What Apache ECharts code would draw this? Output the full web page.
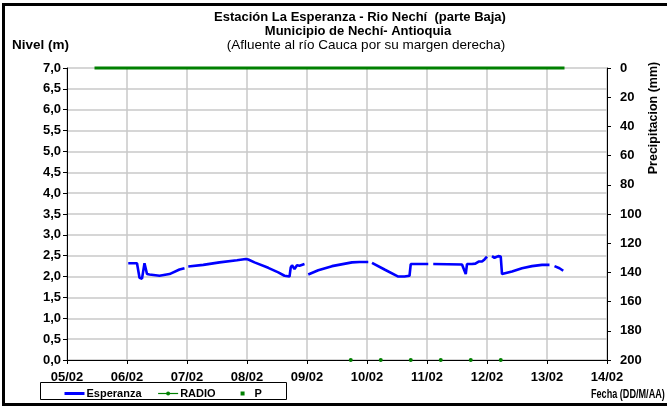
<!DOCTYPE html>
<html>
<head>
<meta charset="utf-8">
<script src="https://cdn.jsdelivr.net/npm/echarts@6/dist/echarts.min.js"></script>
<style>
html,body{margin:0;padding:0;background:#ffffff;}
#chart{width:667px;height:409px;}
</style>
</head>
<body>
<div id="chart"></div>
<script>
// ---- data ----
const xTickLabels = ['05/02','06/02','07/02','08/02','09/02','10/02','11/02','12/02','13/02','14/02'];

const esperanzaTimes = [
  '06/02 00:30','06/02 04:00','06/02 05:00','06/02 06:00','06/02 07:00','06/02 08:00','06/02 09:00',
  '06/02 13:00','06/02 17:00','06/02 21:00','06/02 23:00','06/02 23:30',
  '07/02 00:30','07/02 06:30','07/02 13:00','07/02 20:00','07/02 23:30',
  '08/02 00:30','08/02 03:00','08/02 08:30','08/02 12:30','08/02 15:00','08/02 17:00','08/02 17:30',
  '08/02 18:00','08/02 19:00','08/02 20:00','08/02 21:00','08/02 23:00','08/02 23:45',
  '09/02 00:30','09/02 04:30','09/02 10:00','09/02 18:00','09/02 21:00','10/02 00:30','10/02 01:15',
  '10/02 02:00','10/02 07:00','10/02 12:30','10/02 15:00','10/02 17:00','10/02 17:30','11/02 00:30','11/02 01:30',
  '11/02 02:30','11/02 14:00','11/02 15:30','11/02 16:00','11/02 18:00','11/02 19:20','11/02 20:40',
  '11/02 22:00','11/02 23:00','12/02 00:00','12/02 01:00',
  '12/02 02:00','12/02 03:00','12/02 04:30','12/02 05:30','12/02 06:00','12/02 10:00','12/02 14:00',
  '12/02 18:00','12/02 22:00','13/02 01:00','13/02 02:00',
  '13/02 03:00','13/02 05:00','13/02 06:30'
];
const esperanzaLevels = [
  2.32,2.32,1.97,1.95,2.32,2.06,2.05,
  2.02,2.06,2.17,2.20,null,
  2.24,2.28,2.34,2.39,2.42,
  2.41,2.34,2.21,2.10,2.02,2.00,2.22,
  2.27,2.18,2.27,2.26,2.30,null,
  2.05,2.15,2.25,2.34,2.35,2.35,null,
  2.33,2.17,2.00,2.00,2.02,2.30,2.30,null,
  2.30,2.29,2.06,2.30,2.30,2.31,2.36,
  2.36,2.41,2.48,null,
  2.49,2.45,2.49,2.48,2.06,2.12,2.20,
  2.25,2.28,2.28,null,
  2.25,2.20,2.14
];

const radioTimes = ['09/02 17:30','10/02 05:30','10/02 17:30','11/02 05:30','11/02 17:30','12/02 05:30'];
const radioValues = [0,0,0,0,0,0];

const pTimes = ['05/02 11:00','06/02 00:00','07/02 00:00','08/02 00:00','09/02 00:00','10/02 00:00',
  '11/02 00:00','12/02 00:00','13/02 00:00','13/02 07:00'];
const pValues = [0,0,0,0,0,0,0,0,0,0];

// ---- helpers ----
function toHours(s){
  const parts = s.split(' ');
  const day = parseInt(parts[0].split('/')[0], 10);
  const hm = parts[1].split(':');
  return (day - 5) * 24 + parseInt(hm[0], 10) + parseInt(hm[1], 10) / 60;
}
function pairs(times, vals){
  return times.map(function(t, i){ return vals[i] === null ? [toHours(t), '-'] : [toHours(t), vals[i]]; });
}

const FONT = '"Liberation Sans", Arial, sans-serif';
const GREEN = '#008000';
const BLUE = '#0000ff';

const chart = echarts.init(document.getElementById('chart'), null, {renderer:'canvas'});
chart.setOption({
  animation: false,
  backgroundColor: '#ffffff',
  textStyle: {fontFamily: FONT},
  grid: {left: 67, right: 60, top: 68, bottom: 49, containLabel: false},
  xAxis: {
    type: 'value', min: 0, max: 216, interval: 24,
    axisLine: {show: true, lineStyle: {color: '#000', width: 1}},
    axisTick: {show: true, length: 4, lineStyle: {color: '#000'}},
    axisLabel: {margin: 11, color: '#000', fontWeight: 'bold', fontSize: 13, fontFamily: FONT,
      formatter: function(v){ return xTickLabels[Math.round(v / 24)]; }},
    splitLine: {show: true, lineStyle: {color: '#c8c8c8', width: 1.5}}
  },
  yAxis: [
    {
      type: 'value', min: 0, max: 7, interval: 0.5, position: 'left',
      axisLine: {show: true, lineStyle: {color: '#000', width: 1}},
      axisTick: {show: true, length: 4, lineStyle: {color: '#000'}},
      axisLabel: {margin: 6, color: '#000', fontWeight: 'bold', fontSize: 13, fontFamily: FONT,
        formatter: function(v){ return v.toFixed(1).replace('.', ','); }},
      splitLine: {show: true, lineStyle: {color: '#c8c8c8', width: 1.5}}
    },
    {
      type: 'value', min: 0, max: 200, interval: 20, position: 'right', inverse: true,
      axisLine: {show: true, lineStyle: {color: '#000', width: 1}},
      axisTick: {show: true, length: 4, lineStyle: {color: '#000'}},
      axisLabel: {margin: 13, color: '#000', fontWeight: 'bold', fontSize: 13, fontFamily: FONT},
      splitLine: {show: false}
    }
  ],
  legend: {
    left: 58, top: 383, itemWidth: 20, itemHeight: 5, itemGap: 16,
    textStyle: {color: '#000', fontWeight: 'bold', fontSize: 11, fontFamily: FONT, padding: [0,0,0,-3]},
    data: [
      {name: 'Esperanza', itemStyle: {opacity: 0}, lineStyle: {width: 3, color: BLUE, opacity: 1}},
      {name: 'RADIO', lineStyle: {width: 1.2, color: GREEN, opacity: 1}},
      {name: 'P', lineStyle: {opacity: 0}}
    ]
  },
  series: [
    {
      name: 'Esperanza', type: 'line', yAxisIndex: 0, data: pairs(esperanzaTimes, esperanzaLevels),
      symbol: 'none', showSymbol: false, connectNulls: false, clip: false,
      lineStyle: {color: BLUE, width: 2.6}, itemStyle: {color: BLUE}, z: 3
    },
    {
      name: 'RADIO', type: 'line', yAxisIndex: 0, data: pairs(radioTimes, radioValues),
      symbol: 'circle', symbolSize: 4, showSymbol: true, clip: false,
      lineStyle: {color: GREEN, width: 1, opacity: 0}, itemStyle: {color: GREEN}, z: 4
    },
    {
      name: 'P', type: 'line', yAxisIndex: 1, data: pairs(pTimes, pValues),
      symbol: 'rect', symbolSize: 4, showSymbol: false, clip: false,
      lineStyle: {color: GREEN, width: 3}, itemStyle: {color: GREEN}, z: 4
    }
  ],
  graphic: [
    {type: 'rect', silent: true, shape: {x: 3.5, y: 4.5, width: 680, height: 400},
      style: {fill: 'none', stroke: '#000', lineWidth: 3}},
    {type: 'rect', silent: true, shape: {x: 40.5, y: 382.5, width: 246, height: 17},
      style: {fill: 'none', stroke: '#000', lineWidth: 1}},
    {type: 'text', x: 360, y: 17, style: {text: 'Estación La Esperanza - Rio Nechí  (parte Baja)',
      font: 'bold 13px ' + FONT, fill: '#000', align: 'center', verticalAlign: 'middle', textAlign: 'center', textVerticalAlign: 'middle'}},
    {type: 'text', x: 358, y: 31, style: {text: 'Municipio de Nechí- Antioquia',
      font: 'bold 13px ' + FONT, fill: '#000', align: 'center', verticalAlign: 'middle', textAlign: 'center', textVerticalAlign: 'middle'}},
    {type: 'text', x: 366, y: 45, style: {text: '(Afluente al río Cauca por su margen derecha)',
      font: '13.5px ' + FONT, fill: '#000', align: 'center', verticalAlign: 'middle', textAlign: 'center', textVerticalAlign: 'middle'}},
    {type: 'text', x: 12, y: 45, style: {text: 'Nivel (m)',
      font: 'bold 13.5px ' + FONT, fill: '#000', align: 'left', verticalAlign: 'middle', textAlign: 'left', textVerticalAlign: 'middle'}},
    {type: 'text', x: 591, y: 394, scaleX: 0.7, style: {text: 'Fecha (DD/M/AA)',
      font: 'bold 13px ' + FONT, fill: '#000', align: 'left', verticalAlign: 'middle', textAlign: 'left', textVerticalAlign: 'middle'}},
    {type: 'text', x: 654, y: 118, rotation: Math.PI / 2, style: {text: 'Precipitacion (mm)',
      font: 'bold 12.5px ' + FONT, fill: '#000', align: 'center', verticalAlign: 'middle', textAlign: 'center', textVerticalAlign: 'middle'}}
  ]
});
</script>
</body>
</html>
